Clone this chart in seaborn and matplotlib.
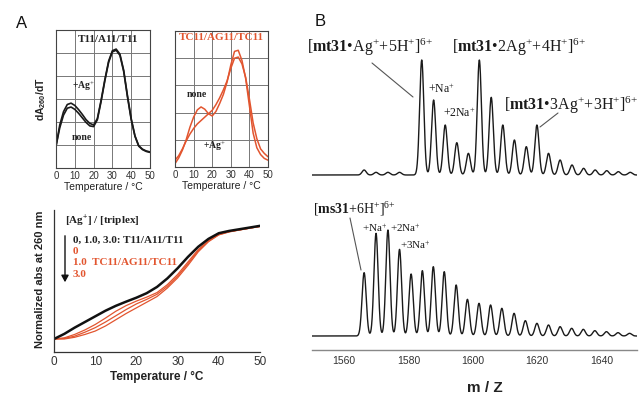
import numpy as np
import matplotlib
matplotlib.use("Agg")
import matplotlib.pyplot as plt
from matplotlib.lines import Line2D
from matplotlib.patches import FancyArrowPatch
import seaborn as sns

sns.set_style("white")
plt.rcParams["font.family"] = ["Liberation Sans", "DejaVu Sans"]
plt.rcParams["mathtext.fontset"] = "custom"
plt.rcParams["mathtext.rm"] = "Liberation Serif"
plt.rcParams["mathtext.bf"] = "Liberation Serif:bold"
plt.rcParams["mathtext.it"] = "Liberation Serif:italic"
plt.rcParams["mathtext.sf"] = "Liberation Sans:bold"

RED = "#E2552F"
SERIF = ["Liberation Serif", "DejaVu Serif"]

# ---- panel A, dA260/dT curves ----
temp_dt = [0, 2, 4, 6, 8, 10, 12, 14, 16, 18, 20, 22, 24, 26,
           28, 30, 32, 34, 36, 38, 40, 42, 44, 46, 48, 50]
t11_none = [0.95, 1.75, 2.3, 2.6, 2.65, 2.55, 2.38, 2.18, 1.98, 1.83, 1.8, 2.1, 2.9, 3.8,
            4.6, 5.05, 5.12, 4.9, 4.2, 3.1, 2.1, 1.38, 0.95, 0.8, 0.72, 0.68]
t11_ag = [0.95, 1.87, 2.45, 2.76, 2.82, 2.72, 2.54, 2.33, 2.1, 1.94, 1.87, 2.15, 2.95, 3.85,
          4.65, 5.1, 5.17, 4.95, 4.25, 3.15, 2.15, 1.4, 0.97, 0.82, 0.74, 0.7]
tc11_none = [0.15, 0.4, 0.75, 1.2, 1.75, 2.2, 2.52, 2.65, 2.55, 2.35, 2.25, 2.45, 2.8, 3.2,
             3.75, 4.5, 5.1, 5.15, 4.7, 3.9, 2.7, 1.5, 0.85, 0.55, 0.38, 0.3]
tc11_ag = [0.3, 0.5, 0.8, 1.15, 1.45, 1.7, 1.9, 2.05, 2.2, 2.35, 2.5, 2.75, 3.05, 3.4,
           3.8, 4.35, 4.8, 4.85, 4.55, 3.95, 3.0, 1.95, 1.25, 0.8, 0.6, 0.45]

# ---- panel A, normalized melting curves ----
temp_abs = [0, 2.5, 5, 7.5, 10, 12.5, 15, 17.5, 20, 22.5, 25,
            27.5, 30, 32.5, 35, 37.5, 40, 42.5, 45, 47.5, 50]
abs_t11 = [0, 0.045, 0.1, 0.15, 0.2, 0.25, 0.293, 0.33, 0.365, 0.405, 0.46,
           0.535, 0.625, 0.725, 0.815, 0.885, 0.935, 0.955, 0.97, 0.985, 1.0]
abs_tc11_0 = [0, 0.01, 0.04, 0.08, 0.128, 0.185, 0.245, 0.295, 0.335, 0.37, 0.41,
              0.48, 0.57, 0.68, 0.79, 0.87, 0.925, 0.95, 0.965, 0.98, 0.995]
abs_tc11_1 = [0, 0.005, 0.025, 0.06, 0.1, 0.15, 0.205, 0.26, 0.31, 0.35, 0.395,
              0.465, 0.555, 0.665, 0.78, 0.865, 0.922, 0.948, 0.964, 0.98, 0.995]
abs_tc11_3 = [0, 0.0, 0.015, 0.04, 0.07, 0.115, 0.17, 0.225, 0.275, 0.325, 0.375,
              0.45, 0.54, 0.65, 0.77, 0.86, 0.92, 0.946, 0.963, 0.979, 0.995]

# ---- panel B, ESI-MS peak lists (m/z, intensity) ----
mt31_mz = [1566.2, 1569.9, 1573.6, 1577.2, 1584.1, 1587.8, 1591.4, 1595.0, 1598.6, 1602.0,
           1605.7, 1609.3, 1612.9, 1616.6, 1619.9, 1623.5, 1627.1, 1630.8, 1634.4, 1638.0,
           1641.6, 1645.2, 1648.9]
mt31_int = [15, 8, 8, 8, 345, 225, 150, 97, 65, 345,
            233, 150, 105, 85, 150, 65, 45, 30, 20, 15,
            13, 10, 8]
ms31_mz = [1566.2, 1569.9, 1573.6, 1577.2, 1580.8, 1584.3, 1587.7, 1591.1, 1594.8, 1598.3,
           1601.9, 1605.5, 1609.0, 1612.8, 1616.3, 1619.9, 1623.5, 1627.1, 1630.7, 1634.3,
           1637.9, 1641.5, 1645.1, 1648.7]
ms31_int = [190, 308, 318, 260, 186, 196, 208, 193, 153, 110,
            98, 93, 83, 68, 46, 38, 33, 28, 23, 20,
            16, 13, 10, 8]
mz_ticks = [1560, 1580, 1600, 1620, 1640]

W, H = 641, 394
fig = plt.figure(figsize=(W / 100, H / 100), dpi=100)


def box(left, top, right, bottom):
    return [left / W, 1 - bottom / H, (right - left) / W, (bottom - top) / H]


def fx(x):
    return x / W


def fy(y):
    return 1 - y / H


def spectrum(centers, heights, x, width=0.65):
    y = np.zeros_like(x)
    for c, h in zip(centers, heights):
        y += h * np.exp(-0.5 * ((x - c) / width) ** 2)
    return y


# ===== top-left: T11/A11/T11 =====
ax1 = fig.add_axes(box(56, 30, 150, 168))
sns.lineplot(x=temp_dt, y=t11_ag, ax=ax1, color="#1a1a1a", linewidth=1.2)
sns.lineplot(x=temp_dt, y=t11_none, ax=ax1, color="#1a1a1a", linewidth=1.2)
ax1.set_xlim(0, 50)
ax1.set_ylim(0, 6)
ax1.set_yticks(np.arange(0, 7, 1))

# ===== top-right: TC11/AG11/TC11 =====
ax2 = fig.add_axes(box(175, 31, 268, 167))
sns.lineplot(x=temp_dt, y=tc11_none, ax=ax2, color=RED, linewidth=1.1)
sns.lineplot(x=temp_dt, y=tc11_ag, ax=ax2, color=RED, linewidth=1.1)
ax2.set_xlim(0, 50)
ax2.set_ylim(0, 6)
ax2.set_yticks(np.linspace(0, 6, 6))

for ax in (ax1, ax2):
    ax.set_xticks(range(0, 51, 10))
    ax.grid(True, color="#777777", linewidth=0.7)
    ax.tick_params(length=0, labelsize=7, pad=2, colors="#333333")
    ax.set_yticklabels([])
    for s in ax.spines.values():
        s.set_color("#444444")
        s.set_linewidth(0.8)
    ax.set_xlabel("Temperature / °C", fontsize=7.5, labelpad=1, color="#222222")
    ax.set_ylabel("")

ax1.text(0.55, 0.93, "T11/A11/T11", transform=ax1.transAxes, ha="center", va="center",
         fontsize=8, family=SERIF, fontweight="bold", color="#222222")
ax1.text(0.17, 0.59, r"+Ag$^{+}$", transform=ax1.transAxes, fontsize=7,
         family=SERIF, fontweight="bold", color="#222222", va="center")
ax1.text(0.17, 0.22, "none", transform=ax1.transAxes, fontsize=7,
         family=SERIF, fontweight="bold", color="#222222", va="center")
fig.text(fx(41), fy(99), r"dA$_{\mathsf{260}}$/dT", rotation=90, ha="center", va="center",
         fontsize=7.5, fontweight="bold", color="#222222")

ax2.text(0.5, 0.95, "TC11/AG11/TC11", transform=ax2.transAxes, ha="center", va="center",
         fontsize=8, family=SERIF, fontweight="bold", color=RED)
ax2.text(0.13, 0.53, "none", transform=ax2.transAxes, fontsize=7,
         family=SERIF, fontweight="bold", color="#222222", va="center")
ax2.text(0.3, 0.15, r"+Ag$^{+}$", transform=ax2.transAxes, fontsize=7,
         family=SERIF, fontweight="bold", color="#222222", va="center")

# ===== bottom A: normalized absorbance =====
ax3 = fig.add_axes(box(54, 210, 260, 352))
for yv in (abs_tc11_3, abs_tc11_1, abs_tc11_0):
    sns.lineplot(x=temp_abs, y=yv, ax=ax3, color=RED, linewidth=0.9)
sns.lineplot(x=temp_abs, y=abs_t11, ax=ax3, color="#111111", linewidth=1.8)
ax3.set_xlim(0, 50)
ax3.set_ylim(-0.115, 1.14)
ax3.set_xticks(range(0, 51, 10))
ax3.set_yticks([])
ax3.spines["top"].set_visible(False)
ax3.spines["right"].set_visible(False)
for s in ("left", "bottom"):
    ax3.spines[s].set_color("#333333")
    ax3.spines[s].set_linewidth(0.9)
ax3.tick_params(axis="x", direction="in", length=3, width=0.8, labelsize=8.5,
                pad=3, colors="#333333")
ax3.set_xlabel("Temperature / °C", fontsize=8.5, fontweight="bold", labelpad=2,
               color="#222222")
ax3.set_ylabel("")
fig.text(fx(40), fy(279), "Normalized abs at 260 nm", rotation=90, ha="center",
         va="center", fontsize=8, fontweight="bold", color="#222222")

leg = dict(family=SERIF, fontweight="bold", va="baseline", fontsize=8)
fig.text(fx(65), fy(224), r"[Ag$^{\mathbf{+}}$] / [triplex]", color="#222222", **leg)
fig.text(fx(73), fy(243), "0, 1.0, 3.0: T11/A11/T11", color="#222222", **leg)
fig.text(fx(73), fy(254), "0", color=RED, **leg)
fig.text(fx(73), fy(265), "1.0  TC11/AG11/TC11", color=RED, **leg)
fig.text(fx(73), fy(277), "3.0", color=RED, **leg)
fig.add_artist(FancyArrowPatch(
    (fx(65), fy(233)), (fx(65), fy(285)), transform=fig.transFigure,
    arrowstyle="-|>,head_length=4,head_width=2.2", color="#111111", linewidth=1.0))

# ===== panel B spectra =====
mz = np.linspace(1550, 1651, 3000)

ax4 = fig.add_axes(box(312, 30, 637, 190))
sns.lineplot(x=mz, y=spectrum(mt31_mz, mt31_int, mz), ax=ax4, color="#1a1a1a",
             linewidth=1.0)
ax4.set_xlim(1550, 1651)
ax4.set_ylim(-45, 435)
ax4.axis("off")

ax5 = fig.add_axes(box(312, 195, 637, 350))
sns.lineplot(x=mz, y=spectrum(ms31_mz, ms31_int, mz), ax=ax5, color="#1a1a1a",
             linewidth=1.0)
ax5.set_xlim(1550, 1651)
ax5.set_ylim(-42, 423)
ax5.set_xticks(mz_ticks)
ax5.set_yticks([])
for s in ("left", "top", "right"):
    ax5.spines[s].set_visible(False)
ax5.spines["bottom"].set_color("#888888")
ax5.spines["bottom"].set_linewidth(1.0)
ax5.tick_params(axis="x", direction="in", length=4, width=0.9, color="#888888",
                labelsize=7.5, pad=4, labelcolor="#333333")
ax5.set_xlabel("")
ax5.set_ylabel("")
fig.text(fx(485), fy(388), "m / Z", ha="center", va="center", fontsize=11,
         fontweight="bold", color="#222222")

lab = dict(family=SERIF, color="#1a1a1a", va="baseline")
fig.text(fx(307), fy(52), r"[$\mathbf{mt31}$•Ag$^{+}$+5H$^{+}$]$^{6{+}}$", fontsize=11.5, **lab)
fig.text(fx(452), fy(52), r"[$\mathbf{mt31}$•2Ag$^{+}$+4H$^{+}$]$^{6{+}}$", fontsize=11.5, **lab)
fig.text(fx(504), fy(110), r"[$\mathbf{mt31}$•3Ag$^{+}$+3H$^{+}$]$^{6{+}}$", fontsize=11.5, **lab)
fig.text(fx(428), fy(93), r"+Na$^{+}$", fontsize=8.5, **lab)
fig.text(fx(443), fy(117), r"+2Na$^{+}$", fontsize=8.5, **lab)
fig.text(fx(313), fy(214), r"[$\mathbf{ms31}$+6H$^{+}$]$^{6{+}}$", fontsize=10, **lab)
fig.text(fx(362), fy(232), r"+Na$^{+}$", fontsize=8, **lab)
fig.text(fx(390), fy(232), r"+2Na$^{+}$", fontsize=8, **lab)
fig.text(fx(400), fy(249), r"+3Na$^{+}$", fontsize=8, **lab)

for (x0, y0, x1, y1) in [(372, 63, 413, 97), (540, 127, 558, 113), (350, 218, 361, 270)]:
    fig.add_artist(Line2D([fx(x0), fx(x1)], [fy(y0), fy(y1)], transform=fig.transFigure,
                          color="#555555", linewidth=0.8))

fig.text(fx(22), fy(23), "A", ha="center", va="center", fontsize=12, color="#111111")
fig.text(fx(320), fy(22), "B", ha="center", va="center", fontsize=12, color="#111111")

fig.savefig("out.png", dpi=100)
